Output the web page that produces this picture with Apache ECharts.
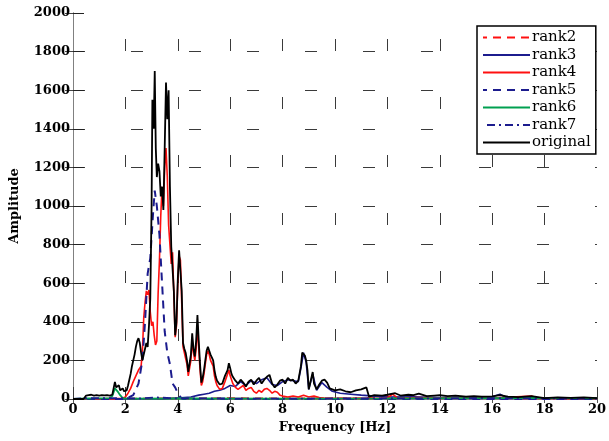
<!DOCTYPE html>
<html>
<head>
<meta charset="utf-8">
<script src="https://cdn.jsdelivr.net/npm/echarts@6/dist/echarts.min.js"></script>
<style>html,body{margin:0;padding:0;background:#fff;}#c{width:609px;height:441px;}</style>
</head>
<body>
<div id="c"></div>
<script>
// ---- data ----
var xTicks = [0, 2, 4, 6, 8, 10, 12, 14, 16, 18, 20];
var yTicks = [0, 200, 400, 600, 800, 1000, 1200, 1400, 1600, 1800, 2000];
var seriesNames = ['rank2', 'rank3', 'rank4', 'rank5', 'rank6', 'rank7', 'original'];

var rank2F = [0, 2, 4, 6, 8, 10, 11.6, 11.8, 12.0, 12.2, 14, 16, 18, 20];
var rank2A = [0, 2, 3, 4, 3, 3, 4, 12, 15, 5, 4, 5, 3, 2];

var rank3F = [0, 3.5, 4.0, 4.5, 4.8, 5.0, 5.2, 5.4, 5.6, 5.8, 6.0, 6.2, 6.4, 6.6, 6.8, 7.0, 7.2, 7.4, 7.6, 7.8, 8.0, 8.2, 8.4, 8.6, 8.7, 8.8, 8.9, 9.0, 9.15, 9.3, 9.5, 9.7, 9.9, 10.2, 10.6, 11.0, 11.5, 12, 13, 14, 15, 16, 16.3, 16.5, 17, 18, 20];
var rank3A = [0, 0, 5, 10, 20, 25, 30, 40, 45, 55, 70, 65, 90, 70, 95, 80, 100, 110, 75, 70, 90, 100, 95, 90, 160, 240, 190, 50, 130, 45, 85, 60, 40, 30, 25, 20, 15, 10, 12, 8, 10, 12, 25, 10, 5, 4, 3];

var rank4F = [0, 1.8, 2.0, 2.1, 2.2, 2.3, 2.4, 2.5, 2.6, 2.65, 2.7, 2.75, 2.8, 2.85, 2.9, 2.95, 3.0, 3.05, 3.1, 3.15, 3.2, 3.25, 3.3, 3.35, 3.4, 3.45, 3.5, 3.55, 3.6, 3.65, 3.7, 3.75, 3.8, 3.85, 3.9, 3.95, 4.0, 4.05, 4.1, 4.15, 4.2, 4.25, 4.3, 4.35, 4.4, 4.45, 4.5, 4.55, 4.6, 4.65, 4.7, 4.75, 4.8, 4.85, 4.9, 4.95, 5.0, 5.05, 5.1, 5.15, 5.2, 5.25, 5.3, 5.35, 5.4, 5.45, 5.5, 5.6, 5.7, 5.8, 5.9, 5.95, 6.0, 6.1, 6.2, 6.3, 6.4, 6.5, 6.6, 6.7, 6.8, 6.9, 7.0, 7.1, 7.2, 7.3, 7.4, 7.5, 7.6, 7.7, 7.8, 7.9, 8.0, 8.2, 8.4, 8.6, 8.8, 9.0, 9.2, 9.4, 9.6, 10, 11, 12, 12.2, 12.4, 13.2, 14, 15, 16, 17.5, 17.7, 20];
var rank4A = [0, 0, 10, 30, 55, 90, 120, 150, 170, 250, 420, 500, 560, 540, 565, 450, 380, 400, 330, 280, 300, 550, 720, 950, 1100, 1000, 1200, 1300, 1150, 900, 800, 700, 760, 540, 320, 380, 600, 740, 720, 500, 270, 240, 210, 180, 120, 110, 200, 300, 240, 200, 260, 380, 260, 150, 70, 90, 130, 180, 230, 250, 230, 200, 190, 170, 120, 90, 70, 50, 55, 90, 130, 150, 120, 80, 60, 50, 60, 70, 45, 55, 60, 40, 30, 45, 35, 50, 55, 45, 30, 40, 35, 20, 15, 10, 15, 10, 20, 10, 15, 8, 5, 3, 3, 5, 25, 5, 8, 5, 5, 5, 15, 5, 3];

var rank5F = [0, 2.0, 2.3, 2.5, 2.65, 2.75, 2.85, 2.95, 3.05, 3.12, 3.2, 3.3, 3.4, 3.5, 3.6, 3.7, 3.8, 3.9, 4.0, 4.1, 4.2, 20];
var rank5A = [0, 0, 20, 80, 200, 400, 650, 730, 950, 1080, 1000, 850, 600, 350, 240, 180, 80, 60, 30, 10, 0, 0];

var rank6F = [0, 0.6, 1.4, 1.5, 1.6, 1.7, 1.8, 1.9, 2.1, 4, 8, 12, 16, 18, 20];
var rank6A = [0, 3, 5, 15, 55, 40, 20, 5, 2, 3, 2, 3, 5, 6, 4];

var rank7F = [0, 0.5, 1.5, 2.5, 3.2, 4, 8, 12, 16, 20];
var rank7A = [0, 5, 5, 3, 8, 3, 2, 3, 4, 2];

var origF = [0, 0.4, 0.5, 0.6, 0.7, 0.8, 0.9, 1.0, 1.1, 1.2, 1.3, 1.4, 1.5, 1.55, 1.6, 1.65, 1.7, 1.75, 1.8, 1.85, 1.9, 1.95, 2.0, 2.05, 2.1, 2.15, 2.2, 2.25, 2.3, 2.35, 2.4, 2.45, 2.5, 2.55, 2.6, 2.65, 2.7, 2.75, 2.8, 2.85, 2.9, 2.95, 3.0, 3.03, 3.08, 3.12, 3.16, 3.2, 3.25, 3.3, 3.35, 3.4, 3.45, 3.5, 3.55, 3.6, 3.65, 3.7, 3.75, 3.8, 3.85, 3.9, 3.95, 4.0, 4.05, 4.1, 4.15, 4.2, 4.25, 4.3, 4.35, 4.4, 4.45, 4.5, 4.55, 4.6, 4.65, 4.7, 4.75, 4.8, 4.85, 4.9, 4.95, 5.0, 5.05, 5.1, 5.15, 5.2, 5.25, 5.3, 5.35, 5.4, 5.45, 5.5, 5.55, 5.6, 5.7, 5.8, 5.9, 5.95, 6.0, 6.05, 6.1, 6.2, 6.3, 6.4, 6.5, 6.6, 6.7, 6.8, 6.9, 7.0, 7.1, 7.2, 7.3, 7.4, 7.5, 7.6, 7.7, 7.8, 7.9, 8.0, 8.1, 8.2, 8.3, 8.4, 8.5, 8.6, 8.7, 8.75, 8.8, 8.85, 8.9, 8.95, 9.0, 9.1, 9.15, 9.2, 9.3, 9.4, 9.5, 9.6, 9.7, 9.8, 9.9, 10.0, 10.2, 10.4, 10.6, 10.8, 11.0, 11.2, 11.3, 11.5, 11.8, 12.0, 12.3, 12.5, 12.8, 13.0, 13.2, 13.5, 13.8, 14.0, 14.3, 14.6, 15.0, 15.3, 15.6, 16.0, 16.3, 16.6, 17.0, 17.5, 18.0, 18.5, 19.0, 19.5, 20.0];
var origA = [0, 0, 18, 20, 22, 18, 20, 18, 20, 19, 20, 18, 22, 55, 88, 60, 50, 72, 45, 35, 55, 40, 30, 45, 70, 100, 130, 170, 200, 230, 270, 300, 315, 290, 240, 200, 210, 260, 290, 270, 380, 520, 1000, 1550, 1400, 1700, 1300, 1150, 1220, 1180, 1050, 1100, 980, 1300, 1640, 1450, 1600, 1100, 790, 780, 560, 330, 400, 620, 770, 780, 560, 290, 260, 240, 200, 140, 130, 230, 340, 260, 220, 300, 435, 300, 180, 85, 110, 150, 200, 250, 270, 250, 230, 220, 200, 150, 115, 95, 85, 75, 80, 120, 150, 185, 160, 130, 115, 95, 80, 100, 85, 65, 90, 100, 75, 95, 110, 80, 100, 115, 125, 80, 60, 75, 95, 100, 80, 110, 95, 100, 80, 95, 170, 240, 250, 225, 200, 150, 50, 110, 140, 80, 50, 75, 95, 100, 85, 55, 50, 45, 50, 40, 35, 45, 50, 60, 12, 20, 18, 22, 30, 18, 22, 20, 28, 15, 18, 20, 15, 18, 12, 15, 12, 14, 20, 12, 10, 15, 5, 8, 6, 8, 5];

// ---- build ----
function pairs(f, a) { var out = []; for (var i = 0; i < f.length; i++) out.push([f[i], a[i]]); return out; }
var NAVY = '#1c1c8e', RED = '#ff1010', GREEN = '#00a050';
var styles = {
  rank2: { color: RED, type: [8, 6], width: 1.8 },
  rank3: { color: NAVY, type: 'solid', width: 1.6 },
  rank4: { color: RED, type: 'solid', width: 1.6 },
  rank5: { color: NAVY, type: [8, 6], width: 2 },
  rank6: { color: GREEN, type: 'solid', width: 1.8 },
  rank7: { color: NAVY, type: [8, 4, 2, 4], width: 1.8 },
  original: { color: '#000', type: 'solid', width: 1.8 }
};
var dataMap = {
  rank2: pairs(rank2F, rank2A), rank3: pairs(rank3F, rank3A), rank4: pairs(rank4F, rank4A),
  rank5: pairs(rank5F, rank5A), rank6: pairs(rank6F, rank6A), rank7: pairs(rank7F, rank7A),
  original: pairs(origF, origA)
};
var series = seriesNames.map(function (n) {
  var s = styles[n];
  return { name: n, type: 'line', symbol: 'none', showSymbol: false, data: dataMap[n],
    lineStyle: { color: s.color, width: s.width, type: s.type }, itemStyle: { color: s.color },
    emphasis: { disabled: true }, animation: false };
});

var FONT = 'DejaVu Serif';
var chart = echarts.init(document.getElementById('c'), null, { renderer: 'canvas' });
chart.setOption({
  backgroundColor: '#fff',
  animation: false,
  grid: { left: 71, right: 10, top: 13, bottom: 42, containLabel: false },
  legend: {
    data: seriesNames, orient: 'vertical', left: 477, top: 26,
    itemWidth: 47, itemHeight: 12, itemGap: 2.5,
    padding: [4, 5, 4, 5],
    itemStyle: { opacity: 0, borderWidth: 0 },
    backgroundColor: '#fff', borderColor: '#000', borderWidth: 1.5,
    textStyle: { fontFamily: FONT, fontSize: 15, color: '#000', padding: [0, 0, 0, -3] },
    selectedMode: false
  },
  xAxis: [{
    type: 'value', min: xTicks[0], max: xTicks[xTicks.length - 1], interval: 2,
    name: 'Frequency [Hz]', nameLocation: 'middle', nameGap: 20,
    nameTextStyle: { fontFamily: FONT, fontWeight: 'bold', fontSize: 13, color: '#000' },
    axisLine: { show: true, onZero: false, lineStyle: { color: '#808080', width: 1 } },
    axisTick: { show: true, inside: true, length: 12, lineStyle: { color: '#3a3a3a' } },
    axisLabel: { fontFamily: FONT, fontWeight: 'bold', fontSize: 13, color: '#000', margin: 4 },
    splitLine: { show: true, showMinLine: false, showMaxLine: false, lineStyle: { color: '#3a3a3a', width: 1, type: [12, 46], dashOffset: 32 } }
  }, {
    type: 'value', position: 'top', min: xTicks[0], max: xTicks[xTicks.length - 1], interval: 2,
    axisLine: { show: true, lineStyle: { color: '#808080', width: 1 } },
    axisTick: { show: true, inside: true, length: 4, lineStyle: { color: '#555' } },
    axisLabel: { show: false }, splitLine: { show: false }
  }],
  yAxis: [{
    type: 'value', min: yTicks[0], max: yTicks[yTicks.length - 1], interval: 200,
    name: 'Amplitude', nameLocation: 'middle', nameGap: 52, nameRotate: 90,
    nameTextStyle: { fontFamily: FONT, fontWeight: 'bold', fontSize: 13, color: '#000' },
    axisLine: { show: true, lineStyle: { color: '#808080', width: 1 } },
    axisTick: { show: true, inside: true, length: 11, lineStyle: { color: '#222' } },
    axisLabel: { fontFamily: FONT, fontWeight: 'bold', fontSize: 13, color: '#000', margin: 3,
      formatter: function (v) { return String(v); } },
    splitLine: { show: true, showMinLine: false, showMaxLine: false, lineStyle: { color: '#3a3a3a', width: 1, type: [12, 46], dashOffset: 0 } }
  }, {
    type: 'value', position: 'right', min: yTicks[0], max: yTicks[yTicks.length - 1], interval: 200,
    axisLine: { show: true, lineStyle: { color: '#808080', width: 1 } },
    axisTick: { show: true, inside: true, length: 8, lineStyle: { color: '#444' } },
    axisLabel: { show: false }, splitLine: { show: false }
  }],
  series: series
});
</script>
</body>
</html>
